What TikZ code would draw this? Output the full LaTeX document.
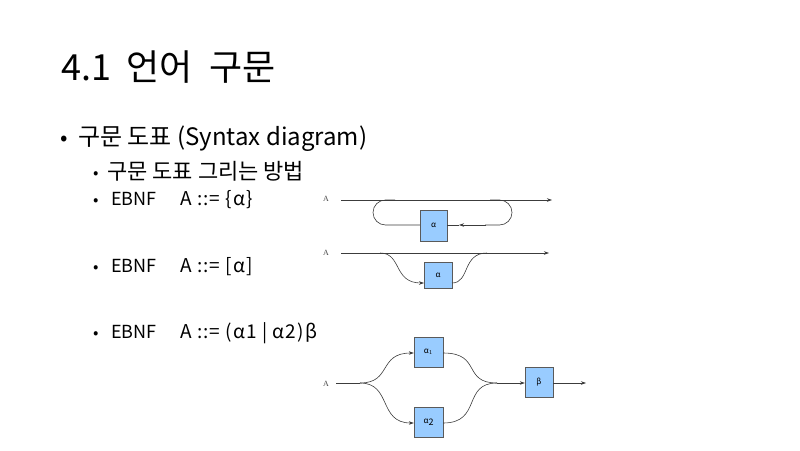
\documentclass[tikz,border=0pt]{standalone}
\usepackage{fontspec}
\setmainfont{Noto Sans CJK KR}
\newfontfamily\serifA{Liberation Serif}
\usetikzlibrary{arrows.meta}
\definecolor{boxfill}{HTML}{99CCFF}
\definecolor{boxline}{HTML}{5A5A5A}
\definecolor{wire}{HTML}{3C3C3C}
\tikzset{
  txt/.style={anchor=base west, inner sep=0pt, text=black},
  lab/.style={inner sep=0pt, font=\serifA\fontsize{8}{8}\selectfont, text=black!70},
  sbox/.style={draw=boxline, fill=boxfill, inner sep=0pt, font=\fontsize{8}{8}\selectfont},
  wirel/.style={draw=wire, line width=0.6pt},
  arr/.style={wirel, -{Stealth[length=5pt,width=3.5pt]}},
  ebnf/.style={txt, font=\fontsize{18}{18}\selectfont},
  rule/.style={txt, font=\fontsize{19}{19}\selectfont\addfontfeatures{LetterSpace=6}},
  sbul/.style={txt, font=\fontsize{16}{16}\selectfont},
}
\begin{document}
\begin{tikzpicture}[x=1pt,y=-1pt]
\useasboundingbox (0,0) rectangle (800,450);
% title
\node[txt, font=\fontsize{36}{36}\selectfont] (title1) at (61,80) {4.1};
\node[txt, font=\fontsize{36}{36}\selectfont] (title2) at (126,80) {언어};
\node[txt, font=\fontsize{36}{36}\selectfont] (title3) at (209,80) {구문};
% bullets
\node[txt, font=\fontsize{22}{22}\selectfont] (b1) at (60,145) {•};
\node[txt, font=\fontsize{24}{24}\selectfont] (t1) at (78,145) {구문 도표 (Syntax diagram)};
\node[sbul] (b2) at (93,178) {•};
\node[txt, font=\fontsize{22}{22}\selectfont] (t2) at (107,179) {구문 도표 그리는 방법};
\node[sbul] (b3) at (93,205) {•};
\node[ebnf] (t3) at (111,205) {EBNF};
\node[rule] (u3) at (180,205) {A ::= \{α\}};
\node[sbul] (b4) at (93,272) {•};
\node[ebnf] (t4) at (111,272) {EBNF};
\node[rule] (u4) at (180,272) {A ::= [α]};
\node[sbul] (b5) at (93,338) {•};
\node[ebnf] (t5) at (111,338) {EBNF};
\node[rule] (u5) at (180,338) {A ::= (α1 | α2)β};

% diagram 1: A ::= {alpha}
\node[lab] (A1) at (326,199) {A};
\coordinate (s1) at (341,200);
\coordinate (e1) at (552,200);
\draw[arr] (s1) -- (e1);
\node[sbox, minimum width=27pt, minimum height=31pt] (a1) at (433.5,225.5) {α};
\coordinate (r1) at (490,200);
\coordinate (m1) at (459,225);
\coordinate (l1) at (395,225);
\draw[wirel, rounded corners=12.5pt] (r1) -- (512,200) -- (512,225) -- (485,225);
\draw[arr] (486,225) -- (m1);
\draw[wirel] (m1) -- (a1.east |- m1);
\draw[wirel, rounded corners=12.5pt] (a1.west |- l1) -- (373,225) -- (373,200) -- (395,200);

% diagram 2: A ::= [alpha]
\node[lab] (A2) at (326,253) {A};
\coordinate (s2) at (341,253);
\coordinate (e2) at (549,253);
\draw[arr] (s2) -- (e2);
\node[sbox, minimum width=28pt, minimum height=26pt] (a2) at (438,275) {α};
\coordinate (p2) at (380,253);
\coordinate (q2) at (487,253);
\coordinate (in2) at (424,283);
\coordinate (out2) at (452,283);
\draw[arr] (p2) .. controls (402,253) and (393,283) .. (in2);
\draw[wirel] (out2) .. controls (470,283) and (462,253) .. (q2);

% diagram 3: A ::= (alpha1 | alpha2) beta
\node[lab] (A3) at (326,384) {A};
\coordinate (s3) at (336,383);
\coordinate (f3) at (360,383);
\node[sbox, minimum width=29pt, minimum height=30pt] (a31) at (428.5,352) {α$_1$};
\node[sbox, minimum width=29pt, minimum height=30pt] (a32) at (428.5,422) {α\raisebox{-1.5pt}{\fontsize{9}{9}\selectfont 2}};
\node[sbox, minimum width=28pt, minimum height=30pt] (b3x) at (539,382) {β};
\coordinate (j3) at (497,383);
\coordinate (e3) at (586,383);
\draw[wirel] (s3) -- (f3);
\draw[arr] (f3) .. controls (392,383) and (378,353) .. (a31.west |- 0,353);
\draw[arr] (f3) .. controls (392,383) and (378,423) .. (a32.west |- 0,423);
\draw[wirel] (a31.east |- 0,353) .. controls (482,353) and (462,383) .. (j3);
\draw[wirel] (a32.east |- 0,423) .. controls (482,423) and (462,383) .. (j3);
\draw[arr] (j3) -- (b3x.west |- j3);
\draw[arr] (b3x.east |- j3) -- (e3);
\end{tikzpicture}
\end{document}
